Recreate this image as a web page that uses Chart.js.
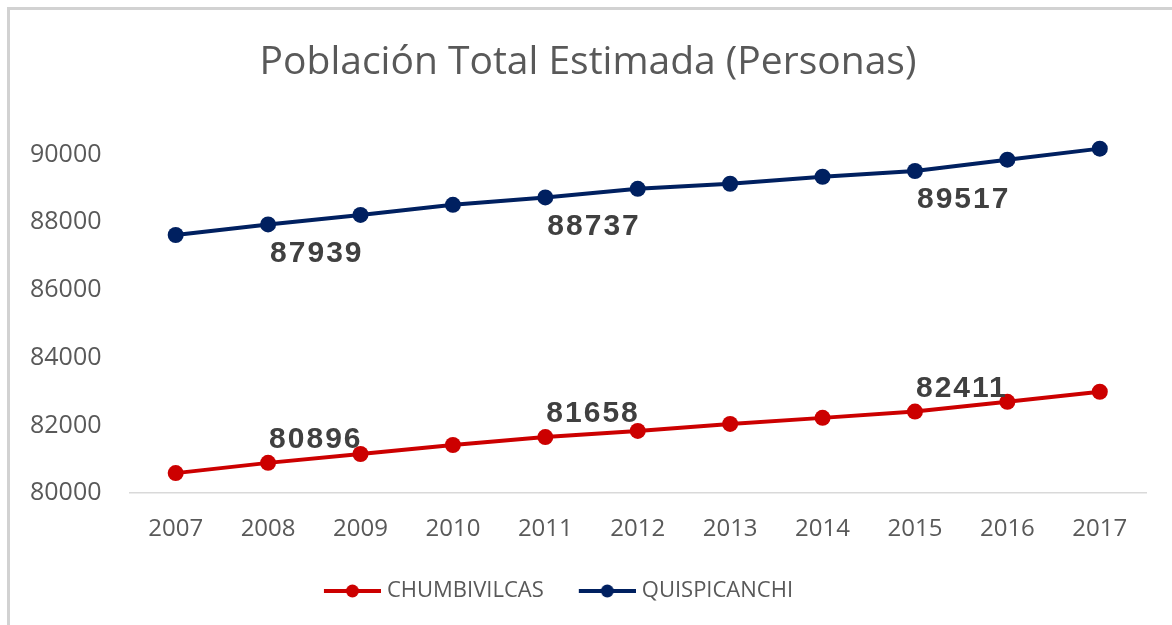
<!DOCTYPE html>
<html>
<head>
<meta charset="utf-8">
<script src="https://cdn.jsdelivr.net/npm/chart.js@4.4.0/dist/chart.umd.min.js"></script>
<style>
  html, body { margin: 0; padding: 0; background: #fff; }
  #wrap { position: relative; width: 1172px; height: 625px; }
  #frame {
    position: absolute; left: 7px; top: 7px; right: 0; bottom: 0;
    border-left: 3px solid #d2d2d2; border-top: 3px solid #d2d2d2;
    pointer-events: none;
  }
</style>
</head>
<body>
<div id="wrap">
  <canvas id="popChart" width="1172" height="625"></canvas>
  <div id="frame"></div>
</div>
<script>
// DATA
const years = ["2007", "2008", "2009", "2010", "2011", "2012", "2013", "2014", "2015", "2016", "2017"];
const chumbivilcas = [80593, 80896, 81157, 81424, 81658, 81840, 82047, 82225, 82411, 82700, 82997];
const quispicanchi = [87626, 87939, 88220, 88517, 88737, 88991, 89140, 89347, 89517, 89852, 90178];
const labeledYears = ["2008", "2011", "2015"];
const yTicks = [80000, 82000, 84000, 86000, 88000, 90000];

const RED = "#cc0000";
const BLUE = "#002060";
const LEGEND_BOX = 73;

// legend symbol: line with a dot, sitting at the right side of the image
function legendSymbol(color) {
    const c = document.createElement("canvas");
    c.width = LEGEND_BOX + 10;
    c.height = 16;
    const g = c.getContext("2d");
    const x0 = c.width - 57;
    g.strokeStyle = color;
    g.lineWidth = 4;
    g.beginPath();
    g.moveTo(x0, 8);
    g.lineTo(c.width, 8);
    g.stroke();
    g.fillStyle = color;
    g.beginPath();
    g.arc(x0 + 28.5, 8, 6.5, 0, Math.PI * 2);
    g.fill();
    return c;
}

// DATA LABELS (only for some years)
const valueLabels = {
    id: "valueLabels",
    afterDatasetsDraw(chart) {
        const ctx = chart.ctx;
        ctx.save();
        ctx.font = "bold 30px 'Liberation Sans', Arial, sans-serif";
        ctx.letterSpacing = "2px";
        ctx.fillStyle = "#404040";
        ctx.textAlign = "left";
        ctx.textBaseline = "middle";
        chart.data.datasets.forEach((ds, di) => {
            const meta = chart.getDatasetMeta(di);
            labeledYears.forEach(yr => {
                const i = chart.data.labels.indexOf(yr);
                const pt = meta.data[i];
                const off = ds.labelOffset;
                ctx.fillText(String(ds.data[i]), pt.x + off.x, pt.y + off.y);
            });
        });
        ctx.restore();
    }
};

// legend in the original sits a bit left of centre
const legendShift = {
    id: "legendShift",
    afterLayout(chart) {
        chart.legend.left -= 40;
        chart.legend.right -= 40;
    }
};

const ctx = document.getElementById("popChart").getContext("2d");
new Chart(ctx, {
    type: "line",
    data: {
        labels: years,
        datasets: [
            {
                label: "CHUMBIVILCAS",
                data: chumbivilcas,
                borderColor: RED,
                backgroundColor: RED,
                borderWidth: 4,
                pointRadius: 8,
                pointBackgroundColor: RED,
                pointBorderWidth: 0,
                labelOffset: { x: 1, y: -23 },
                legendImg: legendSymbol(RED)
            },
            {
                label: "QUISPICANCHI",
                data: quispicanchi,
                borderColor: BLUE,
                backgroundColor: BLUE,
                borderWidth: 4,
                pointRadius: 8,
                pointBackgroundColor: BLUE,
                pointBorderWidth: 0,
                labelOffset: { x: 2, y: 29 },
                legendImg: legendSymbol(BLUE)
            }
        ]
    },
    options: {
        responsive: false,
        animation: false,
        layout: { padding: { left: 30, right: 26, top: 0, bottom: 13 } },
        plugins: {
            title: {
                display: true,
                text: "Población Total Estimada (Personas)",
                font: { family: "'Open Sans', sans-serif", size: 39, weight: "normal" },
                color: "#595959",
                padding: { top: 39, bottom: 35 }
            },
            legend: {
                position: "bottom",
                labels: {
                    usePointStyle: true,
                    pointStyleWidth: LEGEND_BOX,
                    padding: 14,
                    font: { family: "'Open Sans', sans-serif", size: 22 },
                    color: "#595959",
                    generateLabels(chart) {
                        return chart.data.datasets.map((ds, i) => ({
                            text: ds.label,
                            pointStyle: ds.legendImg,
                            fillStyle: ds.borderColor,
                            strokeStyle: ds.borderColor,
                            lineWidth: 0,
                            fontColor: "#595959",
                            hidden: false,
                            datasetIndex: i
                        }));
                    }
                }
            },
            tooltip: { enabled: false }
        },
        scales: {
            x: {
                offset: true,
                grid: { display: false, drawTicks: false },
                border: { display: true, color: "#d9d9d9", width: 1.5 },
                ticks: {
                    font: { family: "'Open Sans', sans-serif", size: 24 },
                    color: "#595959",
                    padding: 22
                }
            },
            y: {
                min: 80000,
                max: 91000,
                grid: { display: false, drawTicks: false },
                border: { display: false },
                afterBuildTicks(axis) {
                    axis.ticks = yTicks.map(v => ({ value: v }));
                },
                // padding is counted twice by the fit, keep it once
                afterFit(axis) {
                    axis.width -= 28;
                },
                ticks: {
                    font: { family: "'Open Sans', sans-serif", size: 25 },
                    color: "#595959",
                    padding: 28,
                    callback: v => String(v)
                }
            }
        }
    },
    plugins: [valueLabels, legendShift]
});
</script>
</body>
</html>
